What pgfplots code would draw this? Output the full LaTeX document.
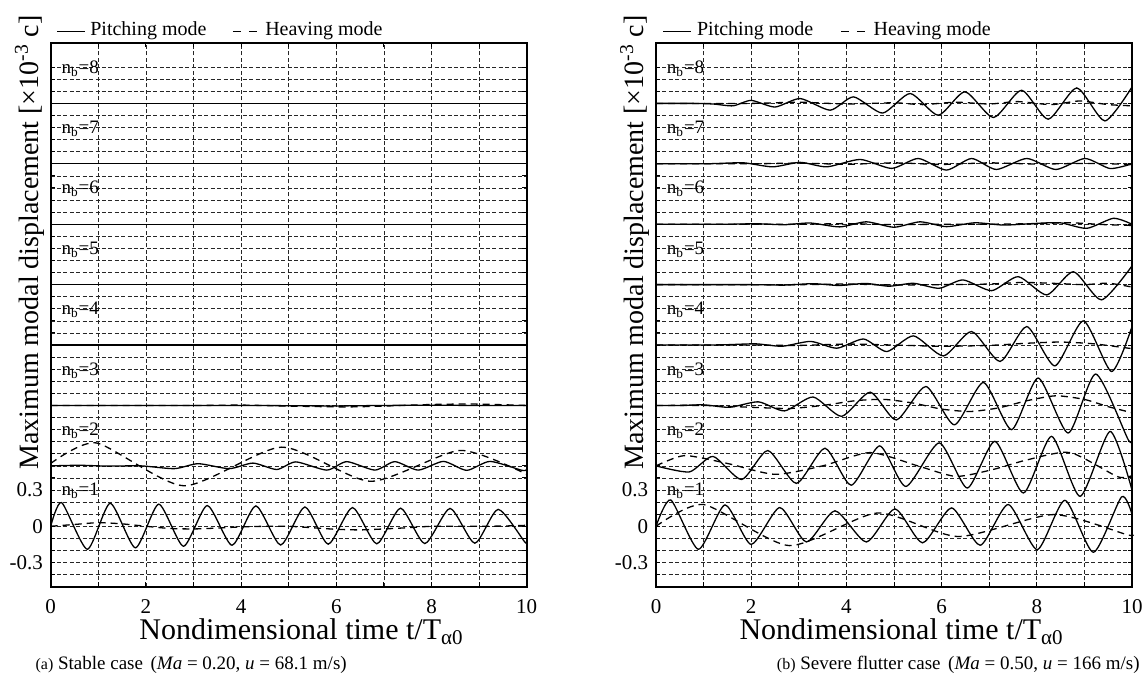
\documentclass[border=0pt]{standalone}
\usepackage{fontspec}
\setmainfont{Liberation Serif}
\usepackage{pgfplots}
\pgfplotsset{compat=1.18}

\pgfplotsset{
  panel/.style={
    scale only axis, width=238pt, height=271.85pt,
    xmin=0, xmax=10, ymin=-0.5, ymax=4,
    axis line style={line width=0.9pt},
    xtick={0,2,4,6,8,10}, xticklabels={0,2,4,6,8,10},
    minor xtick={1,3,5,7,9},
    ytick={-0.3,0,0.3}, yticklabels={-0.3,0,0.3},
    minor ytick={-0.4,-0.2,-0.1,0.1,0.2,0.4,0.5,...,3.9},
    grid=both,
    major grid style={black!85, line width=0.35pt, dash pattern=on 2pt off 1.2pt},
    minor grid style={black!85, line width=0.35pt, dash pattern=on 2pt off 1.2pt},
    tick align=inside, major tick length=2.2pt, minor tick length=2.2pt,
    tick style={black, line width=0.5pt},
    xtick pos=both, ytick pos=both,
    ticklabel style={font=\fontsize{10.5}{12}\selectfont},
    xticklabel style={inner sep=0.5pt, yshift=-5.9pt},
    yticklabel style={inner sep=0.5pt, xshift=-3.2pt},
    ylabel={Maximum modal displacement [×10\textsuperscript{-3} c]},
    ylabel style={at={(axis description cs:-0.026,0.633)}, anchor=base,
      font=\fontsize{14}{17}\selectfont},
    xlabel={Nondimensional time t/T\textsubscript{α0}},
    clip=false,
  },
  pitch/.style={black, line width=0.65pt, smooth, tension=0.4, no marks},
  heave/.style={black, line width=0.65pt, smooth, tension=0.4, no marks, dash pattern=on 3.5pt off 2.5pt},
}
\tikzset{
  nb/.style={anchor=west, inner sep=0pt, font=\fontsize{9.5}{11}\selectfont},
  leg/.style={anchor=base west, inner sep=0pt, font=\fontsize{10}{12}\selectfont},
  xlab/.style={anchor=base, inner sep=0.5pt, yshift=-26.65pt, font=\fontsize{15}{18}\selectfont},
  capt/.style={inner sep=0pt, font=\fontsize{9.5}{11}\selectfont},
}

\begin{document}
\begin{tikzpicture}
\useasboundingbox (-25.35pt,-43.15pt) rectangle (547.15pt,293.35pt);

% ---------------- (a) stable case ----------------
\begin{axis}[panel, at={(0,0)}, anchor=south west,
  xlabel style={at={(axis description cs:0.527,0)}, xlab}]
% n_b = 1
\addplot[heave] coordinates {(0,0)(0.5,0.015)(1.0,0.03)(1.5,0.02)(2.0,0.0)(2.5,-0.018)(3.0,-0.022)(3.5,-0.015)(4.0,-0.005)(4.5,0.0)(5.0,0.0)(5.5,-0.012)(6.0,-0.025)(6.5,-0.03)(7.0,-0.022)(7.5,-0.012)(8.0,0.0)(8.5,0.0)(9.0,0.0)(9.5,0.002)(10,0.008)};
\addplot[pitch] coordinates {(0,0)(0.23,0.196)(0.77,-0.19)(1.25,0.19)(1.78,-0.178)(2.27,0.183)(2.79,-0.165)(3.29,0.172)(3.81,-0.157)(4.31,0.169)(4.83,-0.155)(5.34,0.16)(5.83,-0.148)(6.34,0.155)(6.85,-0.145)(7.35,0.15)(7.86,-0.143)(8.39,0.148)(8.91,-0.14)(9.40,0.14)(9.96,-0.13)(10,-0.128)};
% n_b = 2
\addplot[heave] coordinates {(0,0.52)(0.96,0.69)(2.8,0.335)(4.85,0.655)(6.72,0.372)(8.6,0.628)(10,0.43)};
\addplot[pitch] coordinates {(0,0.5)(0.6,0.505)(1.2,0.498)(1.9,0.5)(2.6,0.477)(3.1,0.518)(3.75,0.477)(4.25,0.523)(4.75,0.47)(5.15,0.533)(5.8,0.465)(6.22,0.535)(6.81,0.465)(7.23,0.535)(7.72,0.465)(8.25,0.537)(8.74,0.463)(9.23,0.537)(9.9,0.463)(10,0.47)};
% n_b = 3
\addplot[heave] coordinates {(0,1)(3,1)(4,1.003)(5,0.995)(6.2,0.988)(7,0.995)(8,1.008)(8.8,1.012)(9.5,1.006)(10,1.0)};
\addplot[pitch] coordinates {(0,1)(4,1)(5,0.998)(6,0.996)(7,1.0)(8,1.002)(9,1.0)(10,1)};
% n_b = 4..8
\addplot[heave] coordinates {(0,1.5)(10,1.5)};
\addplot[pitch] coordinates {(0,1.5)(10,1.5)};
\addplot[heave] coordinates {(0,2.0)(10,2.0)};
\addplot[pitch] coordinates {(0,2.0)(10,2.0)};
\addplot[heave] coordinates {(0,2.5)(10,2.5)};
\addplot[pitch] coordinates {(0,2.5)(10,2.5)};
\addplot[heave] coordinates {(0,3.0)(10,3.0)};
\addplot[pitch] coordinates {(0,3.0)(10,3.0)};
\addplot[heave] coordinates {(0,3.5)(10,3.5)};
\addplot[pitch] coordinates {(0,3.5)(10,3.5)};
% mode labels
\node[nb] at (axis cs:0.22,0.29) {n\textsubscript{b}=1};
\node[nb] at (axis cs:0.22,0.79) {n\textsubscript{b}=2};
\node[nb] at (axis cs:0.22,1.29) {n\textsubscript{b}=3};
\node[nb] at (axis cs:0.22,1.79) {n\textsubscript{b}=4};
\node[nb] at (axis cs:0.22,2.29) {n\textsubscript{b}=5};
\node[nb] at (axis cs:0.22,2.79) {n\textsubscript{b}=6};
\node[nb] at (axis cs:0.22,3.29) {n\textsubscript{b}=7};
\node[nb] at (axis cs:0.22,3.79) {n\textsubscript{b}=8};
% legend
\draw[line width=0.6pt] (axis description cs:0.0139,1.0208) -- (axis description cs:0.0723,1.0208);
\node[leg] at (axis description cs:0.0825,1.0129) {Pitching mode};
\draw[line width=0.6pt, dash pattern=on 4pt off 4pt] (axis description cs:0.3827,1.0208) -- (axis description cs:0.4331,1.0208);
\node[leg] at (axis description cs:0.4499,1.0129) {Heaving mode};
% caption
\node[capt, anchor=base west] at (axis description cs:-0.0326,-0.1514)
  {{\fontsize{8}{9}\selectfont(a)} Stable case\hspace{0.4em}(\textit{Ma} = 0.20, \textit{u} = 68.1 m/s)};
\end{axis}

% ---------------- (b) severe flutter case ----------------
\begin{axis}[panel, at={(302.65pt,0)}, anchor=south west,
  xlabel style={at={(axis description cs:0.516,0)}, xlab}]
% n_b = 1
\addplot[heave] coordinates {(0,0)(1.0,0.18)(2.8,-0.16)(4.65,0.11)(6.35,-0.085)(8.35,0.097)(9.9,-0.07)(10,-0.065)};
\addplot[pitch] coordinates {(0,0)(0.31,0.218)(0.89,-0.19)(1.45,0.177)(2.0,-0.15)(2.6,0.155)(3.16,-0.13)(3.76,0.128)(4.42,-0.13)(5.02,0.144)(5.6,-0.137)(6.21,0.152)(6.81,-0.157)(7.4,0.18)(8.01,-0.193)(8.59,0.215)(9.19,-0.215)(9.78,0.243)(10,0.1)};
% n_b = 2
\addplot[heave] coordinates {(0,0.5)(0.6,0.585)(1.5,0.52)(2.5,0.43)(3.5,0.5)(4.5,0.61)(5.5,0.5)(6.3,0.413)(7.08,0.47)(7.8,0.55)(8.7,0.61)(9.7,0.41)(10,0.42)};
\addplot[pitch] coordinates {(0,0.5)(0.7,0.45)(1.2,0.578)(1.8,0.387)(2.35,0.627)(2.95,0.355)(3.55,0.646)(4.1,0.34)(4.7,0.665)(5.25,0.33)(5.95,0.69)(6.54,0.317)(7.12,0.703)(7.72,0.276)(8.31,0.744)(8.91,0.248)(9.54,0.785)(10,0.3)};
% n_b = 3
\addplot[heave] coordinates {(0,1.0)(1,1.0)(2,0.985)(2.8,0.975)(3.5,1.0)(4.2,1.04)(4.8,1.05)(5.4,1.02)(6.0,0.97)(6.6,0.95)(7.2,0.98)(7.8,1.04)(8.4,1.08)(9.0,1.05)(9.5,0.99)(10,0.94)};
\addplot[pitch] coordinates {(0,1.0)(0.5,1.0)(1.0,1.005)(1.55,0.985)(2.15,1.03)(2.7,0.955)(3.3,1.07)(3.9,0.91)(4.5,1.11)(5.05,0.88)(5.67,1.157)(6.27,0.84)(6.88,1.19)(7.47,0.80)(8.03,1.227)(8.66,0.772)(9.24,1.26)(9.92,0.717)(10,0.73)};
% n_b = 4
\addplot[heave] coordinates {(0,1.5)(2,1.5)(3,1.497)(4,1.508)(5,1.5)(6,1.49)(7,1.497)(7.8,1.515)(8.5,1.525)(9.2,1.51)(10,1.47)};
\addplot[pitch] coordinates {(0,1.5)(1.0,1.5)(1.5,1.503)(2.1,1.51)(2.65,1.49)(3.25,1.53)(3.8,1.474)(4.36,1.55)(4.85,1.446)(5.41,1.576)(6.04,1.41)(6.63,1.612)(7.23,1.364)(7.79,1.653)(8.38,1.328)(8.98,1.70)(9.57,1.281)(10,1.653)};
% n_b = 5
\addplot[heave] coordinates {(0,2.0)(3,2.0)(4,2.005)(5,1.997)(6,2.0)(7,2.005)(7.7,2.018)(8.4,2.01)(9.0,2.0)(9.5,2.012)(10,1.98)};
\addplot[pitch] coordinates {(0,2.0)(2.0,2.0)(2.7,1.996)(3.3,2.008)(3.85,1.993)(4.4,2.01)(4.9,1.987)(5.41,2.011)(5.95,1.97)(6.45,2.039)(7.05,1.95)(7.61,2.066)(8.21,1.915)(8.77,2.107)(9.36,1.874)(10,2.155)};
% n_b = 6
\addplot[heave] coordinates {(0,2.5)(3,2.5)(4,2.505)(5,2.497)(6,2.5)(7,2.5)(8,2.505)(8.7,2.512)(9.4,2.497)(10,2.49)};
\addplot[pitch] coordinates {(0,2.5)(1.5,2.5)(2.1,2.504)(2.7,2.496)(3.24,2.51)(3.86,2.478)(4.42,2.52)(5.0,2.475)(5.55,2.52)(6.1,2.48)(6.7,2.512)(7.3,2.493)(7.9,2.505)(8.49,2.512)(9.05,2.466)(9.61,2.549)(10,2.5)};
% n_b = 7
\addplot[heave] coordinates {(0,3.0)(2,3.0)(3,3.006)(4,2.996)(5,3.008)(6,2.995)(7,3.008)(8,2.998)(9,3.003)(10,2.995)};
\addplot[pitch] coordinates {(0,3.0)(1,3.0)(1.3,3.003)(1.85,3.008)(2.45,2.975)(3.03,3.012)(3.59,2.975)(4.29,3.036)(4.95,2.962)(5.51,3.044)(6.1,2.948)(6.63,3.044)(7.15,2.953)(7.79,3.044)(8.4,2.953)(9.01,3.044)(9.54,2.961)(10,3.0)};
% n_b = 8
\addplot[heave] coordinates {(0,3.5)(2,3.5)(3,3.51)(4,3.495)(5,3.505)(5.6,3.49)(6.3,3.51)(7,3.495)(7.6,3.515)(8.3,3.49)(8.9,3.52)(9.5,3.49)(10,3.48)};
\addplot[pitch] coordinates {(0,3.5)(0.8,3.5)(1.2,3.495)(1.62,3.48)(2.0,3.525)(2.5,3.47)(3.03,3.54)(3.66,3.444)(4.15,3.554)(4.76,3.42)(5.34,3.582)(5.93,3.402)(6.49,3.596)(7.09,3.383)(7.68,3.609)(8.24,3.369)(8.84,3.628)(9.43,3.355)(10,3.636)};
% mode labels
\node[nb] at (axis cs:0.22,0.29) {n\textsubscript{b}=1};
\node[nb] at (axis cs:0.22,0.79) {n\textsubscript{b}=2};
\node[nb] at (axis cs:0.22,1.29) {n\textsubscript{b}=3};
\node[nb] at (axis cs:0.22,1.79) {n\textsubscript{b}=4};
\node[nb] at (axis cs:0.22,2.29) {n\textsubscript{b}=5};
\node[nb] at (axis cs:0.22,2.79) {n\textsubscript{b}=6};
\node[nb] at (axis cs:0.22,3.29) {n\textsubscript{b}=7};
\node[nb] at (axis cs:0.22,3.79) {n\textsubscript{b}=8};
% legend
\draw[line width=0.6pt] (axis description cs:0.0153,1.0208) -- (axis description cs:0.0729,1.0208);
\node[leg] at (axis description cs:0.0855,1.0129) {Pitching mode};
\draw[line width=0.6pt, dash pattern=on 4pt off 4pt] (axis description cs:0.389,1.0208) -- (axis description cs:0.4394,1.0208);
\node[leg] at (axis description cs:0.4562,1.0129) {Heaving mode};
% caption
\node[capt, anchor=base east] at (axis description cs:1.0168,-0.1514)
  {{\fontsize{8}{9}\selectfont(b)} Severe flutter case\hspace{0.4em}(\textit{Ma} = 0.50, \textit{u} = 166 m/s)};
\end{axis}
\end{tikzpicture}
\end{document}
